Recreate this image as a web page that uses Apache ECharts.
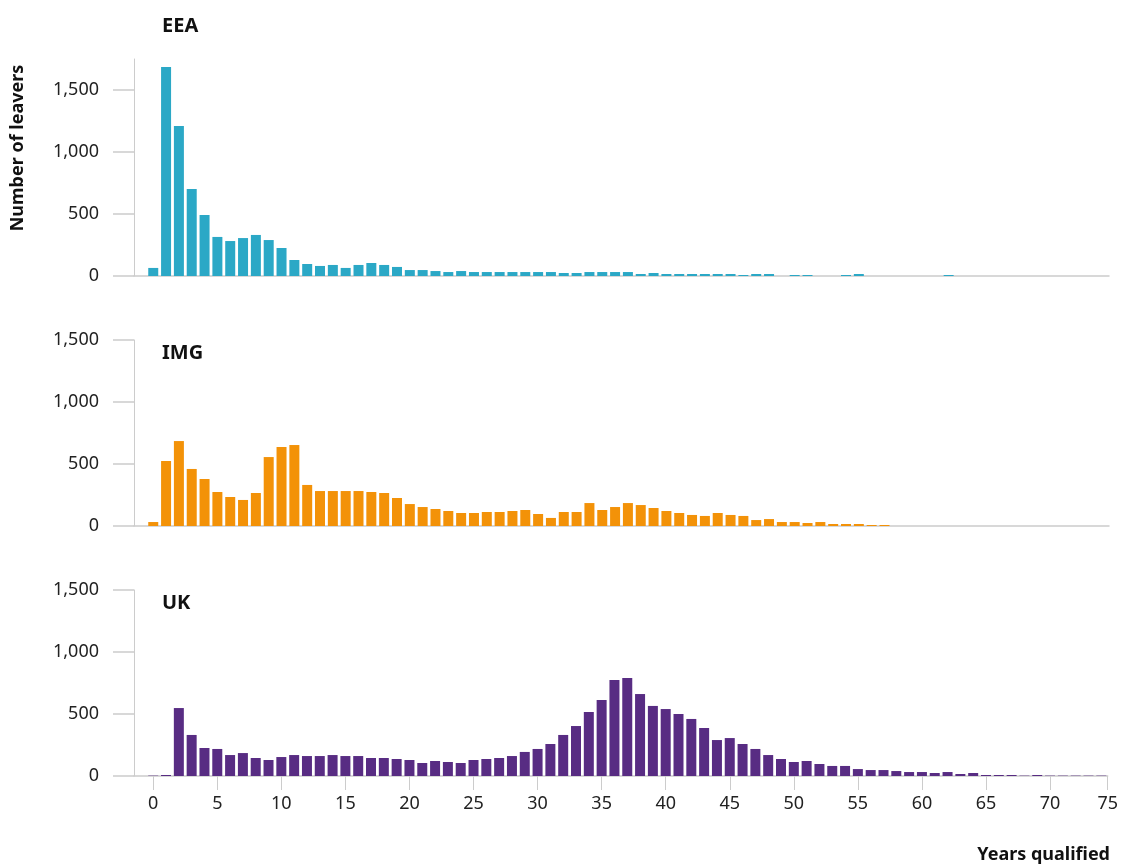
<!DOCTYPE html>
<html>
<head>
<meta charset="utf-8">
<script src="https://cdn.jsdelivr.net/npm/echarts@6/dist/echarts.min.js"></script>
<style>
  html, body { margin: 0; padding: 0; background: #fff; }
  #chart { width: 1121px; height: 865px; }
</style>
</head>
<body>
<div id="chart"></div>
<script>
// years qualified, one bar per year
var years = [0,1,2,3,4,5,6,7,8,9,10,11,12,13,14,15,16,17,18,19,20,21,22,23,24,25,26,27,28,29,30,31,32,33,34,35,36,37,38,39,40,41,42,43,44,45,46,47,48,49,50,51,52,53,54,55,56,57,58,59,60,61,62,63,64,65,66,67,68,69,70,71,72,73,74,75];

var eeaLeavers = [65,1685,1210,702,492,315,282,306,331,290,226,129,97,81,89,65,89,105,89,73,48,48,40,32,40,32,32,32,32,32,32,32,24,24,32,32,32,32,16,24,16,16,16,16,16,16,8,16,16,0,8,8,0,0,8,16,0,0,0,0,0,0,8,0,0,0,0,0,0,0,0,0,0,0,0,0];
var imgLeavers = [32,524,685,460,379,274,234,210,266,556,637,653,331,282,282,282,282,274,266,226,177,153,137,121,105,105,113,113,121,129,97,65,113,113,185,129,153,185,169,145,121,105,89,81,105,89,81,48,56,32,32,24,32,16,16,16,8,8,0,0,0,0,0,0,0,0,0,0,0,0,0,0,0,0,0,0];
var ukLeavers = [3,8,548,331,226,218,169,185,145,129,153,169,161,161,169,161,161,145,145,137,129,105,121,113,105,129,137,145,161,194,218,258,331,403,516,613,774,790,661,565,540,500,460,387,290,306,258,218,169,137,113,121,97,81,81,56,48,48,40,32,32,24,32,16,24,8,8,8,3,8,3,3,3,3,3,0];

var yTicks = [0, 500, 1000, 1500];
// last tick sits on the end of the axis
var xTickValues = [0,5,10,15,20,25,30,35,40,45,50,55,60,65,70,74.5];
var xTickLabels = ['0','5','10','15','20','25','30','35','40','45','50','55','60','65','70','75'];

var panels = [
  { name: 'EEA', data: eeaLeavers, color: '#2ba8c6', top: 59, height: 217, max: 1750, titleTop: 16 },
  { name: 'IMG', data: imgLeavers, color: '#f39208', top: 340, height: 186, max: 1500, titleTop: 343 },
  { name: 'UK',  data: ukLeavers,  color: '#582c83', top: 590, height: 186, max: 1500, titleTop: 593 }
];

var font = '"Noto Sans", "Open Sans", sans-serif';
var axisGrey = '#cccccc';

function fmt(v) {
  return String(v).replace(/\B(?=(\d{3})+(?!\d))/g, ',');
}

var grid = [], xAxis = [], yAxis = [], series = [], title = [];

panels.forEach(function (p, i) {
  var last = i === panels.length - 1;
  grid.push({ left: 134, right: 12, top: p.top, height: p.height });
  xAxis.push({
    type: 'value', gridIndex: i, min: -1.5, max: 74.5,
    axisLine: { show: true, onZero: false, lineStyle: { color: axisGrey, width: 1.5 } },
    axisTick: { show: last, customValues: xTickValues, length: 14, lineStyle: { color: axisGrey } },
    axisLabel: {
      show: last, customValues: xTickValues, margin: 19,
      fontFamily: font, fontSize: 18, color: '#222',
      formatter: function (v) {
        var k = xTickValues.indexOf(v);
        return k >= 0 ? xTickLabels[k] : '';
      }
    },
    splitLine: { show: false }
  });
  yAxis.push({
    type: 'value', gridIndex: i, min: 0, max: p.max,
    axisLine: { show: true, onZero: false, lineStyle: { color: axisGrey, width: 1 } },
    axisTick: { show: true, customValues: yTicks, length: 21, lineStyle: { color: axisGrey, width: 1.5 } },
    axisLabel: {
      customValues: yTicks, margin: 35,
      fontFamily: font, fontSize: 18, color: '#222',
      formatter: fmt
    },
    splitLine: { show: false }
  });
  series.push({
    type: 'bar', name: p.name, xAxisIndex: i, yAxisIndex: i,
    barWidth: 10,
    itemStyle: { color: p.color },
    data: years.map(function (y, k) { return [y, p.data[k]]; })
  });
  title.push({
    text: p.name, left: 162, top: p.titleTop, padding: 0,
    textStyle: { fontFamily: font, fontSize: 20, fontWeight: 'bold', color: '#111' }
  });
});

var chart = echarts.init(document.getElementById('chart'));
chart.setOption({
  animation: false,
  title: title,
  grid: grid,
  xAxis: xAxis,
  yAxis: yAxis,
  series: series,
  graphic: [
    {
      type: 'text', x: 18, y: 148, rotation: Math.PI / 2,
      style: {
        text: 'Number of leavers', fontFamily: font, fontSize: 18, fontWeight: 'bold',
        fill: '#111', align: 'center', verticalAlign: 'middle'
      }
    },
    {
      type: 'text', x: 1110, y: 855,
      style: {
        text: 'Years qualified', fontFamily: font, fontSize: 18, fontWeight: 'bold',
        fill: '#111', align: 'right', verticalAlign: 'middle'
      }
    }
  ]
});
</script>
</body>
</html>
